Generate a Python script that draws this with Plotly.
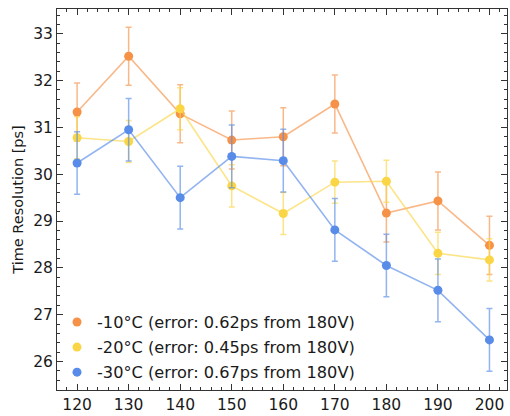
import plotly.graph_objects as go

voltages = [120, 130, 140, 150, 160, 170, 180, 190, 200]
res_m10 = [31.33, 32.52, 31.29, 30.73, 30.80, 31.50, 29.17, 29.43, 28.48]
res_m20 = [30.78, 30.70, 31.40, 29.75, 29.16, 29.83, 29.85, 28.31, 28.17]
res_m30 = [30.24, 30.95, 29.50, 30.38, 30.29, 28.81, 28.05, 27.52, 26.46]
errors = [0.62, 0.45, 0.67]
names = ["-10°C (error: 0.62ps from 180V)",
         "-20°C (error: 0.45ps from 180V)",
         "-30°C (error: 0.67ps from 180V)"]
series = [res_m10, res_m20, res_m30]
colors = [(246, 146, 72), (250, 214, 70), (88, 140, 232)]

fig = go.Figure()
for i, (ys, err, name, c) in enumerate(zip(series, errors, names, colors)):
    rgb = "rgb(%d,%d,%d)" % c
    rgba = "rgba(%d,%d,%d,0.65)" % c
    fig.add_trace(go.Scatter(
        x=voltages, y=ys, mode="lines+markers", name=name,
        line=dict(color=rgba, width=1.6),
        marker=dict(color=rgb, size=9),
        error_y=dict(type="constant", value=err, color=rgba, thickness=1.5, width=3),
        showlegend=False,
    ))
    fig.add_trace(go.Scatter(
        x=[None], y=[None], mode="markers", name=name,
        marker=dict(color=rgb, size=9), legendgroup="g%d" % i,
    ))

axis_common = dict(
    showgrid=False, zeroline=False, showline=True, linecolor="#333", linewidth=1,
    mirror="ticks", ticks="inside", ticklen=6, tickwidth=1, tickcolor="#333",
    tickfont=dict(family="DejaVu Sans", size=15.5, color="#1a1a1a"),
)
fig.update_xaxes(range=[116.1, 203.4], tickvals=voltages,
                 minor=dict(ticks="inside", ticklen=3, dtick=2, tickcolor="#333"),
                 **axis_common)
fig.update_yaxes(range=[25.39, 33.53], dtick=1,
                 minor=dict(ticks="inside", ticklen=3, dtick=0.2, tickcolor="#333"),
                 title=dict(text="Time Resolution [ps]", font=dict(family="DejaVu Sans", size=14.5, color="#1a1a1a"), standoff=6),
                 **axis_common)
fig.update_layout(
    width=510, height=416, margin=dict(l=57, r=2, t=9, b=22),
    paper_bgcolor="white", plot_bgcolor="white",
    legend=dict(x=0.0, y=0.0, xanchor="left", yanchor="bottom",
                font=dict(family="DejaVu Sans", size=16.2, color="#1a1a1a"),
                bgcolor="rgba(0,0,0,0)", tracegroupgap=1, itemwidth=30),
)
fig.write_html("out.html")
